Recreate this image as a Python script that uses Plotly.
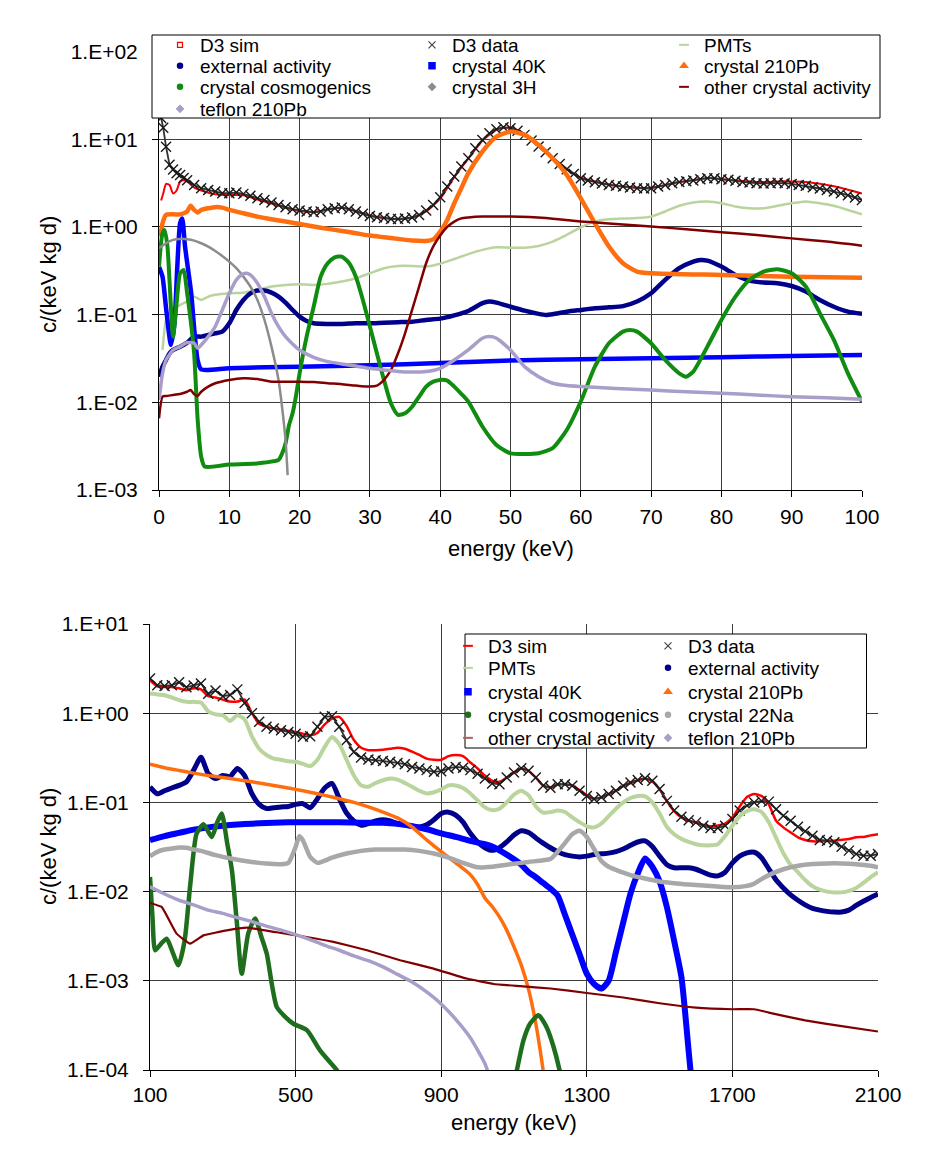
import plotly.graph_objects as go

# ======================= TOP PANEL (0 - 100 keV) =======================
TOP_DATA_E = [0.3, 0.6, 1, 1.5, 2, 2.5, 3, 3.5, 4] + list(range(5, 101))
TOP_DATA = [17.5, 13.5, 8.2, 5.1, 4.5, 4.1, 3.9, 3.6, 3.4,
            3.0, 2.76, 2.64, 2.53, 2.42, 2.42, 2.46, 2.38, 2.26, 2.12,
            2.03, 1.90, 1.78, 1.68, 1.59, 1.54, 1.50, 1.47, 1.50, 1.59,
            1.63, 1.66, 1.59, 1.50, 1.41, 1.33, 1.29, 1.26, 1.23, 1.23,
            1.245, 1.28, 1.37, 1.54, 1.78, 2.18, 2.88, 3.75, 4.88, 6.07,
            7.9, 9.8, 11.7, 13.0, 13.7, 13.35, 12.45, 11.2, 9.65, 8.25,
            7.1, 6.07, 5.23, 4.55, 4.02, 3.59, 3.38, 3.23, 3.12, 3.01,
            2.94, 2.88, 2.81, 2.76, 2.74, 2.76, 2.88, 3.01, 3.15, 3.26,
            3.32, 3.38, 3.50, 3.59, 3.59, 3.50, 3.44, 3.35, 3.26, 3.20,
            3.15, 3.12, 3.15, 3.18, 3.15, 3.09, 3.01, 2.94, 2.84, 2.74,
            2.64, 2.53, 2.42, 2.30, 2.16, 2.03]

TOP_SIM_E = [0.3, 0.6, 1, 1.5, 2, 2.5, 3, 3.5, 4, 5, 6] + list(range(8, 101, 2))
TOP_SIM = [2.0, 2.4, 3.1, 3.0, 2.4, 2.6, 3.3, 3.4, 3.3, 2.8, 2.6,
           2.35, 2.3, 2.3, 2.05, 1.85, 1.65, 1.52, 1.48, 1.58, 1.65,
           1.52, 1.35, 1.27, 1.23, 1.27, 1.5, 2.1, 3.7, 6.0, 9.6,
           12.8, 13.6, 11.5, 8.5, 6.2, 4.6, 3.65, 3.3, 3.05, 2.9,
           2.8, 2.8, 3.0, 3.25, 3.4, 3.6, 3.5, 3.4, 3.3, 3.25,
           3.3, 3.3, 3.25, 3.1, 2.9, 2.65, 2.4]

TOP_PMT_E = [0.5, 1, 1.5, 2, 3, 4, 5, 6, 7, 8] + list(range(10, 101, 2))
TOP_PMT = [0.0395, 0.087, 0.104, 0.113, 0.129, 0.141, 0.160, 0.147, 0.160, 0.168,
           0.175, 0.178, 0.191, 0.209, 0.218, 0.222, 0.218, 0.224, 0.238, 0.26,
           0.296, 0.338, 0.359, 0.359, 0.353, 0.38, 0.43, 0.49, 0.547, 0.586,
           0.58, 0.58, 0.607, 0.68, 0.81, 0.99, 1.15, 1.22, 1.245, 1.26,
           1.31, 1.50, 1.74, 1.90, 1.95, 1.86, 1.71, 1.63, 1.63, 1.74,
           1.86, 1.95, 1.86, 1.74, 1.56, 1.39]

TOP_EXT_E = ([0, 0.5, 1, 1.5, 2] + list(range(3, 23)) + list(range(24, 47, 2)) + [47, 48, 50, 52, 54, 55]
             + list(range(56, 77, 2)) + [77] + list(range(78, 101, 2)))
TOP_EXT = [0.0196, 0.0255, 0.0304, 0.0362, 0.0395,
           0.0431, 0.048, 0.0561, 0.0561, 0.0586, 0.0612, 0.064, 0.0796, 0.113, 0.147,
           0.175, 0.188, 0.188, 0.178, 0.160, 0.137, 0.113, 0.0948, 0.0847, 0.0796,
           0.0783, 0.0783, 0.0796, 0.0796, 0.081, 0.082, 0.083, 0.087, 0.090, 0.098, 0.11, 0.135,
           0.141, 0.137, 0.123, 0.111, 0.102, 0.099,
           0.101, 0.108, 0.113, 0.118, 0.121, 0.125, 0.141, 0.175, 0.249, 0.338, 0.402,
           0.42,
           0.413, 0.353, 0.283, 0.244, 0.232, 0.228, 0.212, 0.183, 0.147, 0.123, 0.108, 0.102]

TOP_K40_E = [0, 0.5, 1, 1.7, 2.2, 2.6, 3, 3.3, 3.7, 4.2, 4.6, 5, 5.5, 6,
             10, 20, 30, 40, 50, 60, 70, 80, 90, 100]
TOP_K40 = [0.35, 0.27, 0.12, 0.045, 0.08, 0.35, 1.1, 1.25, 0.6, 0.3, 0.17, 0.07, 0.03, 0.0237,
           0.0245, 0.0255, 0.0265, 0.028, 0.030, 0.031, 0.0318, 0.0327, 0.0337, 0.0346]

TOP_PB_E = ([0.2, 0.5, 1, 2, 3, 4, 4.5, 5, 5.5, 6, 7, 8, 9, 10] + list(range(12, 39, 2))
            + [39, 40, 41, 42, 43, 44] + list(range(46, 71, 2)) + [80, 90, 100])
TOP_PB = [0.776, 1.10, 1.37, 1.39, 1.39, 1.50, 1.74, 1.56, 1.46, 1.56, 1.63, 1.68, 1.66, 1.56,
          1.43, 1.31, 1.22, 1.15, 1.08, 1.01, 0.95, 0.90, 0.847, 0.796, 0.762, 0.730, 0.698, 0.692,
          0.72, 0.885, 1.2, 1.86, 2.76, 4.1,
          7.23, 10.7, 12.2, 11.2, 8.6, 6.07, 3.92, 2.12, 1.10, 0.597, 0.385, 0.31, 0.296,
          0.283, 0.271, 0.264]

TOP_COS_E = ([0, 0.5, 0.8, 1.2, 2, 2.5, 3, 3.5, 4, 4.5, 5, 5.5, 6, 6.5, 10, 14,
              17, 17.5, 18, 18.5, 19, 19.5] + list(range(20, 45)) + list(range(46, 67, 2))
             + [67, 68, 70, 72, 74, 75] + list(range(76, 101, 2)))
TOP_COS = [0.353, 0.85, 0.92, 0.6, 0.056, 0.135, 0.296, 0.323, 0.175, 0.087, 0.036, 0.0063,
           0.0024, 0.00185, 0.00195, 0.00201,
           0.0022, 0.0026, 0.0034, 0.0055, 0.0075, 0.012,
           0.0214, 0.056, 0.123, 0.271, 0.385, 0.45, 0.459, 0.39, 0.27, 0.147, 0.073, 0.036,
           0.018, 0.0097, 0.0072, 0.0075, 0.0089, 0.0116, 0.0151, 0.0172, 0.018, 0.0177,
           0.0151, 0.0125, 0.0102,
           0.0053, 0.00326, 0.00262, 0.00257, 0.00262, 0.0030, 0.00483, 0.0102, 0.0255, 0.0471, 0.064,
           0.0668, 0.064, 0.0471, 0.0304, 0.0214, 0.0196,
           0.0224, 0.0431, 0.087, 0.16, 0.249, 0.31, 0.329, 0.296, 0.209, 0.1036, 0.0514, 0.0214, 0.0102]

TOP_H3_E = [0, 1, 2, 3, 4, 5, 6, 7, 8, 9, 10, 11, 12, 13, 14, 15, 16, 17, 17.5, 18, 18.3]
TOP_H3 = [0.571, 0.651, 0.711, 0.73, 0.723, 0.698, 0.651, 0.597, 0.532, 0.467, 0.402,
          0.338, 0.271, 0.209, 0.147, 0.087, 0.0431, 0.018, 0.0089, 0.00372, 0.00148]

TOP_OTH_E = ([0, 0.5, 1, 2, 3, 4, 4.5, 5, 5.5, 6, 7, 8] + list(range(10, 31, 2))
             + list(range(31, 45)) + [46, 48, 50] + list(range(55, 101, 5)))
TOP_OTH = [0.00657, 0.0116, 0.0118, 0.0121, 0.01245, 0.0132, 0.0138, 0.0124, 0.0118, 0.0132,
           0.0151, 0.0165,
           0.018, 0.0188, 0.0184, 0.0172, 0.0172, 0.0172, 0.017, 0.0165, 0.0161, 0.0155, 0.0151,
           0.0155, 0.018, 0.0234, 0.0362, 0.0612, 0.113, 0.209, 0.385, 0.597, 0.80, 1.0, 1.15,
           1.25, 1.28,
           1.31, 1.31, 1.31,
           1.26, 1.15, 1.08, 1.01, 0.94, 0.87, 0.81, 0.74, 0.68, 0.61]

TOP_TEF_E = ([0, 0.5, 1, 2, 3, 4, 5, 5.5, 6, 7, 8, 9, 10, 11, 12, 12.5, 13, 14, 15, 16, 17, 18, 19, 20]
             + list(range(22, 47, 2)) + [47] + list(range(48, 61, 2)) + list(range(65, 101, 5)))
TOP_TEF = [0.0106, 0.0214, 0.0304, 0.0395, 0.0431, 0.048, 0.0472, 0.0413, 0.045, 0.0561,
           0.073, 0.113, 0.175, 0.249, 0.291, 0.296, 0.283, 0.228, 0.16, 0.1036, 0.073, 0.056,
           0.0463, 0.0395,
           0.0326, 0.0291, 0.0274, 0.026, 0.0244, 0.0234, 0.0224, 0.0221, 0.0224, 0.0244, 0.0304,
           0.0395, 0.0537,
           0.0561,
           0.0537, 0.0395, 0.0255, 0.0196, 0.0165, 0.0155, 0.0151,
           0.0144, 0.0138, 0.0132, 0.0127, 0.0121, 0.0116, 0.0113, 0.0108]

# ======================= BOTTOM PANEL (100 - 2100 keV) =======================
BOT_E = list(range(100, 2101, 20))
BOT_DATA = [2.45, 2.06, 2.02, 2.06, 2.22, 1.95, 2.05, 2.15, 1.65, 1.80, 1.55, 1.60, 1.85, 1.30, 1.0, 0.80,
            0.703, 0.673, 0.645, 0.617, 0.59, 0.543, 0.552, 0.703, 0.91, 0.925, 0.703, 0.498, 0.368, 0.318, 0.302,
            0.297, 0.292, 0.285, 0.277, 0.268, 0.25, 0.24, 0.23, 0.22, 0.224, 0.24, 0.25, 0.245, 0.23, 0.21,
            0.185, 0.163, 0.160,
            0.19, 0.217, 0.242, 0.227, 0.19, 0.154, 0.146, 0.16, 0.16, 0.154, 0.135, 0.118, 0.109, 0.114,
            0.124, 0.135, 0.154, 0.167, 0.178, 0.187, 0.175, 0.141, 0.104, 0.081, 0.069, 0.063, 0.0597,
            0.0548, 0.0516, 0.0516, 0.0548, 0.065,
            0.081, 0.092, 0.10, 0.104, 0.102, 0.084, 0.071, 0.0623, 0.0534, 0.0474, 0.0424, 0.0379,
            0.0372, 0.0357, 0.0319, 0.0288, 0.0264, 0.0253, 0.0253, 0.0264]
BOT_SIM = [2.34, 2.0, 1.97, 1.97, 1.9, 1.81, 1.9, 1.85, 1.55, 1.5, 1.42, 1.35, 1.35, 1.42, 1.0, 0.76,
           0.703, 0.673, 0.655, 0.634, 0.617, 0.59, 0.566, 0.6, 0.75, 0.87, 0.91, 0.72, 0.50, 0.41, 0.385,
           0.385, 0.39, 0.40, 0.41, 0.40, 0.37, 0.34, 0.31, 0.30, 0.30, 0.33, 0.34, 0.33, 0.28, 0.24,
           0.20, 0.175, 0.17,
           0.19, 0.217, 0.24, 0.225, 0.19, 0.155, 0.147, 0.158, 0.16, 0.155, 0.137, 0.12, 0.11, 0.114,
           0.124, 0.135, 0.152, 0.165, 0.177, 0.185, 0.172, 0.14, 0.103, 0.08, 0.068, 0.062, 0.059,
           0.056, 0.054, 0.055, 0.058, 0.068,
           0.09, 0.115, 0.124, 0.118, 0.095, 0.0623, 0.0525, 0.046, 0.0406, 0.0379, 0.0366, 0.0366,
           0.0372, 0.0372, 0.0382, 0.0389, 0.0406, 0.041, 0.0427, 0.0441]
BOT_PMT = [1.66, 1.62, 1.59, 1.5, 1.4, 1.34, 1.34, 1.32, 1.05, 0.97, 0.95, 0.82, 0.95, 0.85, 0.55, 0.40,
           0.34, 0.31, 0.30, 0.29, 0.285, 0.27, 0.255, 0.30, 0.42, 0.54, 0.45, 0.30, 0.20, 0.155, 0.15,
           0.165, 0.177, 0.185, 0.18, 0.165, 0.15, 0.135, 0.126, 0.13, 0.14, 0.155, 0.155, 0.145, 0.126,
           0.105, 0.088, 0.082, 0.085,
           0.1, 0.122, 0.135, 0.12, 0.09, 0.077, 0.078, 0.081, 0.078, 0.068, 0.060, 0.054, 0.0525, 0.058,
           0.07, 0.085, 0.1, 0.112, 0.118, 0.117, 0.1, 0.075, 0.053, 0.044, 0.039, 0.036, 0.034, 0.033,
           0.033, 0.034, 0.042, 0.055,
           0.07, 0.08, 0.084, 0.078, 0.06, 0.04, 0.027, 0.02, 0.0165, 0.0135, 0.0115, 0.0105, 0.01,
           0.0098, 0.0098, 0.0102, 0.011, 0.0125, 0.0145, 0.0165]
BOT_EXT = [0.149, 0.125, 0.135, 0.145, 0.155, 0.17, 0.23, 0.32, 0.21, 0.185, 0.2, 0.195, 0.24, 0.2, 0.125, 0.095,
           0.0853, 0.087, 0.089, 0.09, 0.095, 0.097, 0.087, 0.11, 0.145, 0.163, 0.11, 0.076, 0.062, 0.0555, 0.058,
           0.062, 0.064, 0.062, 0.058, 0.056, 0.054, 0.0531, 0.056, 0.064, 0.075, 0.0777, 0.072, 0.06, 0.045,
           0.036, 0.031, 0.029, 0.031,
           0.036, 0.043, 0.048, 0.046, 0.040, 0.035, 0.031, 0.028, 0.026, 0.025, 0.0245, 0.025, 0.026,
           0.0265, 0.027, 0.028, 0.030, 0.033, 0.036, 0.037, 0.032, 0.025, 0.02, 0.0185, 0.0185, 0.0185,
           0.0178, 0.0165, 0.0153, 0.015, 0.0165, 0.021,
           0.025, 0.0272, 0.0276, 0.024, 0.018, 0.0135, 0.011, 0.0092, 0.008, 0.0071, 0.0065, 0.0062,
           0.006, 0.0059, 0.0059, 0.0062, 0.007, 0.0078, 0.0086, 0.0094]

BOT_K40_E = ([100, 140, 180, 220, 260, 300, 340, 380, 420, 460, 500, 560, 620, 680, 740, 800, 860,
              900, 940, 980, 1020] + list(range(1040, 1581, 20)) + [1590])
BOT_K40 = [0.0377, 0.0418, 0.0455, 0.0495, 0.0525, 0.0548, 0.0565, 0.0578, 0.0588, 0.0595, 0.060,
           0.060, 0.0598, 0.0592, 0.059, 0.056, 0.050, 0.045, 0.041, 0.037, 0.034,
           0.032, 0.029, 0.026, 0.023, 0.02, 0.0165, 0.0145, 0.0125, 0.0108, 0.009, 0.0055, 0.0033,
           0.002, 0.0012, 0.00092, 0.00082, 0.001, 0.0021, 0.0045, 0.0095, 0.016, 0.0235, 0.019,
           0.013, 0.0067, 0.0028, 0.0011, 0.00016,
           0.00006]

BOT_PB_E = ([100, 140, 180, 220, 260, 300, 340, 380, 420, 460, 500, 540, 580, 620, 660, 700, 740,
             780, 820, 860, 900, 940, 980] + list(range(1000, 1181, 20)) + [1190])
BOT_PB = [0.268, 0.245, 0.228, 0.213, 0.2, 0.19, 0.18, 0.17, 0.16, 0.15, 0.14, 0.13, 0.12, 0.11,
          0.10, 0.089, 0.078, 0.067, 0.053, 0.038, 0.028, 0.021, 0.0155,
          0.012, 0.0085, 0.0068, 0.0052, 0.0037, 0.0024, 0.0015, 0.0008, 0.00033, 0.0001,
          0.00005]

BOT_COS_E = [100, 107, 114, 130, 146, 162, 178, 195, 210, 228, 247, 260, 270, 285, 297, 312, 325,
             338, 352, 370, 389, 405, 421, 435, 448, 470, 494, 531, 567, 613, 620,
             None,
             1100, 1108, 1126, 1144, 1167, 1190, 1209, 1225, 1232]
BOT_COS = [0.0146, 0.005, 0.0022, 0.0026, 0.00297, 0.0021, 0.00149, 0.0028, 0.0113, 0.0447, 0.0569,
           0.047, 0.041, 0.06, 0.075, 0.035, 0.0174, 0.0048, 0.0012, 0.0034, 0.005, 0.0032, 0.002,
           0.0009, 0.00051, 0.0004, 0.00033, 0.00028, 0.000166, 0.0001, 0.00009,
           None,
           0.00007, 0.0001, 0.000215, 0.00033, 0.00041, 0.0003, 0.00018, 0.0001, 0.00007]

BOT_NA_E = ([100, 120, 140, 160, 180, 200, 220, 240, 260, 280, 300, 340, 380, 420, 460,
             480, 500, 510, 520, 540, 560, 580, 600] + list(range(640, 1041, 40)) + [1060, 1100, 1140, 1180]
            + list(range(1200, 1381, 20)) + list(range(1420, 1741, 40)) + [1760, 1780, 1800]
            + list(range(1840, 2081, 40)) + [2100])
BOT_NA = [0.0249, 0.0279, 0.0296, 0.0304, 0.0312, 0.031, 0.0296, 0.0286, 0.0271, 0.0256, 0.0245,
          0.0228, 0.0215, 0.0206, 0.0203,
          0.021, 0.0316, 0.0418, 0.0377, 0.0245, 0.021, 0.0222, 0.024,
          0.0267, 0.0286, 0.0296, 0.0296, 0.0296, 0.0286, 0.0267, 0.024, 0.021, 0.0187, 0.019,
          0.0195, 0.0205, 0.0215, 0.0225,
          0.0232, 0.028, 0.035, 0.044, 0.048, 0.041, 0.030, 0.022, 0.019, 0.0175,
          0.0153, 0.014, 0.013, 0.0124, 0.012, 0.0117, 0.0114, 0.0112, 0.0116,
          0.0123, 0.0138, 0.0153,
          0.0178, 0.0195, 0.0204, 0.0207, 0.0207, 0.0203, 0.0195,
          0.0187]

BOT_OTH_E = [100, 132, 173, 210, 247, 311, 366, 448, 530, 604, 696, 787, 879, 970, 1044, 1117,
             1200, 1300, 1400, 1500, 1600, 1700, 1760, 1800, 1900, 2000, 2100]
BOT_OTH = [0.00746, 0.00673, 0.00338, 0.00261, 0.00323, 0.00368, 0.00394, 0.0035, 0.0031, 0.00273,
           0.0022, 0.0017, 0.00137, 0.00106, 0.00092, 0.00087,
           0.00082, 0.00073, 0.00065, 0.00056, 0.0005, 0.00048, 0.00048, 0.00044, 0.00036, 0.00031, 0.00027]

BOT_TEF_E = list(range(100, 1021, 40)) + [1030]
BOT_TEF = [0.0113, 0.0094, 0.008, 0.0071, 0.0062, 0.0057, 0.0051, 0.0046, 0.0041, 0.0037, 0.0033,
           0.0029, 0.0025, 0.0022, 0.0019, 0.00168, 0.00143, 0.00118, 0.00097, 0.00075, 0.00055,
           0.00037, 0.00023, 0.000118, 0.000091]

TOP_YTICKS = [1e-3, 1e-2, 1e-1, 1e0, 1e1, 1e2]
TOP_YTEXT = ["1.E-03", "1.E-02", "1.E-01", "1.E+00", "1.E+01", "1.E+02"]
BOT_YTICKS = [1e-4, 1e-3, 1e-2, 1e-1, 1e0, 1e1]
BOT_YTEXT = ["1.E-04", "1.E-03", "1.E-02", "1.E-01", "1.E+00", "1.E+01"]
TOP_XTICKS = list(range(0, 101, 10))
BOT_XTICKS = [100, 500, 900, 1300, 1700, 2100]

# ----------------------------- colours -----------------------------
RED = "#FF0000"
DATA = "#1a1a1a"
PMT = "#B9D49C"
NAVY = "#00008B"
BLUE = "#0000FF"
ORANGE = "#FF6E0E"
GREEN_T = "#108C10"
GREEN_B = "#1E6E1E"
GRAY_T = "#8C8C8C"
GRAY_B = "#A8A8A8"
DRED = "#800000"
LAV = "#A99DC9"

FONT = "Liberation Sans, Arial, sans-serif"
fig = go.Figure()


def curve(x, y, color, width, ax, smooth=0.6):
    xa, ya = ("x", "y") if ax == 1 else ("x2", "y2")
    fig.add_trace(go.Scatter(x=x, y=y, mode="lines", showlegend=False, hoverinfo="skip",
                             line=dict(color=color, width=width, shape="spline", smoothing=smooth),
                             xaxis=xa, yaxis=ya, connectgaps=False))


def data_pts(x, y, ax):
    xa, ya = ("x", "y") if ax == 1 else ("x2", "y2")
    fig.add_trace(go.Scatter(x=x, y=y, mode="lines+markers", showlegend=False, hoverinfo="skip",
                             line=dict(color="#333333", width=1.8),
                             marker=dict(symbol="x-thin", size=10, line=dict(color=DATA, width=1.4)),
                             xaxis=xa, yaxis=ya))


def legend_item(name, color, symbol, legend, size=6, lw=1.5):
    fig.add_trace(go.Scatter(x=[None], y=[None], mode="markers", name=name, legend=legend,
                             marker=dict(symbol=symbol, size=size, color=color,
                                         line=dict(color=color, width=lw)),
                             xaxis="x", yaxis="y"))


# ---------- top curves (Excel series order) ----------
curve(TOP_SIM_E, TOP_SIM, RED, 2, 1)
data_pts(TOP_DATA_E, TOP_DATA, 1)
curve(TOP_PMT_E, TOP_PMT, PMT, 2.5, 1)
curve(TOP_EXT_E, TOP_EXT, NAVY, 4.5, 1)
curve(TOP_K40_E, TOP_K40, BLUE, 4.5, 1)
curve(TOP_PB_E, TOP_PB, ORANGE, 4.5, 1)
curve(TOP_COS_E, TOP_COS, GREEN_T, 4, 1)
curve(TOP_H3_E, TOP_H3, GRAY_T, 2.5, 1)
curve(TOP_OTH_E, TOP_OTH, DRED, 2.5, 1)
curve(TOP_TEF_E, TOP_TEF, LAV, 3.5, 1)

# ---------- bottom curves ----------
curve(BOT_E, BOT_SIM, RED, 2.5, 2)
data_pts(BOT_E, BOT_DATA, 2)
curve(BOT_E, BOT_PMT, PMT, 4, 2)
curve(BOT_E, BOT_EXT, NAVY, 5, 2)
curve(BOT_K40_E, BOT_K40, BLUE, 6, 2)
curve(BOT_PB_E, BOT_PB, ORANGE, 3.5, 2)
curve(BOT_COS_E, BOT_COS, GREEN_B, 4.5, 2)
curve(BOT_NA_E, BOT_NA, GRAY_B, 4.5, 2)
curve(BOT_OTH_E, BOT_OTH, DRED, 2.2, 2, smooth=0.3)
curve(BOT_TEF_E, BOT_TEF, LAV, 3.5, 2)

# ---------- legend entries: one horizontal legend per legend row ----------
legend_item("D3 sim", RED, "square-open", "legend", size=5, lw=1.2)
legend_item("D3 data", "#444444", "x-thin", "legend", size=7, lw=1.2)
legend_item("PMTs", PMT, "line-ew", "legend", size=7, lw=2)
legend_item("external activity", NAVY, "circle", "legend2", size=5)
legend_item("crystal 40K", BLUE, "square", "legend2", size=6)
legend_item("crystal 210Pb", ORANGE, "triangle-up", "legend2", size=6)
legend_item("crystal cosmogenics", GREEN_T, "circle", "legend3", size=5)
legend_item("crystal 3H", GRAY_T, "diamond", "legend3", size=5)
legend_item("other crystal activity", DRED, "line-ew", "legend3", size=7, lw=2)
legend_item("teflon 210Pb", LAV, "diamond", "legend4", size=5)

legend_item("D3 sim", RED, "line-ew", "legend5", size=7, lw=2)
legend_item("D3 data", "#444444", "x-thin", "legend5", size=7, lw=1.2)
legend_item("PMTs", PMT, "line-ew", "legend6", size=7, lw=2)
legend_item("external activity", NAVY, "circle", "legend6", size=5)
legend_item("crystal 40K", BLUE, "square", "legend7", size=6)
legend_item("crystal 210Pb", ORANGE, "triangle-up", "legend7", size=6)
legend_item("crystal cosmogenics", GREEN_B, "circle", "legend8", size=5)
legend_item("crystal 22Na", GRAY_B, "circle", "legend8", size=5)
legend_item("other crystal activity", "#B06060", "line-ew", "legend9", size=7, lw=2)
legend_item("teflon 210Pb", LAV, "diamond", "legend9", size=5)

W, H = 939, 1164


def px(xp):
    return xp / W


def py(yp):
    return 1 - yp / H


def leg(x_text, y_mid, entry):
    return dict(x=px(x_text - 40), y=py(y_mid), xanchor="left", yanchor="middle",
                orientation="h", entrywidth=entry, entrywidthmode="pixels",
                bgcolor="rgba(0,0,0,0)", borderwidth=0, itemwidth=30, tracegroupgap=0,
                font=dict(family=FONT, size=19, color="black"), itemclick=False,
                itemdoubleclick=False)


axis_common = dict(showgrid=True, gridcolor="#3c3c3c", gridwidth=1, showline=True,
                   linecolor="black", linewidth=1, ticks="outside", ticklen=6, tickcolor="black",
                   tickfont=dict(family=FONT, size=21, color="black"), zeroline=False,
                   automargin=False)

TOP_ROWS = [45, 66, 87, 109]
BOT_ROWS = [646, 668, 692, 715, 738]

fig.update_layout(
    width=W, height=H, margin=dict(l=0, r=0, t=0, b=0, pad=0, autoexpand=False),
    paper_bgcolor="white", plot_bgcolor="white",
    font=dict(family=FONT, color="black"),
    showlegend=True,
    xaxis=dict(domain=[px(159), px(862)], range=[0, 100], tickvals=TOP_XTICKS, anchor="y",
               ticklabelstandoff=2, **axis_common),
    yaxis=dict(domain=[py(490), py(51.5)], type="log", range=[-3, 2], tickvals=TOP_YTICKS,
               ticktext=TOP_YTEXT, anchor="x", ticklabelstandoff=10, **axis_common),
    xaxis2=dict(domain=[px(150), px(878)], range=[100, 2100], tickvals=BOT_XTICKS, anchor="y2",
                ticklabelstandoff=0, **axis_common),
    yaxis2=dict(domain=[py(1070), py(624)], type="log", range=[-4, 1], tickvals=BOT_YTICKS,
                ticktext=BOT_YTEXT, anchor="x2", ticklabelstandoff=10, **axis_common),
    legend=leg(200, TOP_ROWS[0], 207),
    legend2=leg(200, TOP_ROWS[1], 207),
    legend3=leg(200, TOP_ROWS[2], 207),
    legend4=leg(200, TOP_ROWS[3], 207),
    legend5=leg(488, BOT_ROWS[0], 155),
    legend6=leg(488, BOT_ROWS[1], 155),
    legend7=leg(488, BOT_ROWS[2], 155),
    legend8=leg(488, BOT_ROWS[3], 155),
    legend9=leg(488, BOT_ROWS[4], 155),
    shapes=[
        dict(type="rect", xref="paper", yref="paper", x0=px(152), x1=px(880), y0=py(118), y1=py(35),
             line=dict(color="black", width=1), fillcolor="white", layer="above"),
        dict(type="rect", xref="paper", yref="paper", x0=px(465), x1=px(866.5), y0=py(748), y1=py(634),
             line=dict(color="black", width=1), fillcolor="white", layer="above"),
    ],
    annotations=[
        dict(text="c/(keV kg d)", x=px(48), y=py(275), xref="paper", yref="paper", showarrow=False,
             xanchor="center", yanchor="middle", textangle=-90,
             font=dict(family=FONT, size=22, color="black")),
        dict(text="energy (keV)", x=px(511), y=py(548), xref="paper", yref="paper", showarrow=False,
             xanchor="center", yanchor="middle", font=dict(family=FONT, size=22, color="black")),
        dict(text="c/(keV kg d)", x=px(48), y=py(847), xref="paper", yref="paper", showarrow=False,
             xanchor="center", yanchor="middle", textangle=-90,
             font=dict(family=FONT, size=22, color="black")),
        dict(text="energy (keV)", x=px(514), y=py(1122), xref="paper", yref="paper", showarrow=False,
             xanchor="center", yanchor="middle", font=dict(family=FONT, size=22, color="black")),
    ],
)

fig.write_html("out.html")
